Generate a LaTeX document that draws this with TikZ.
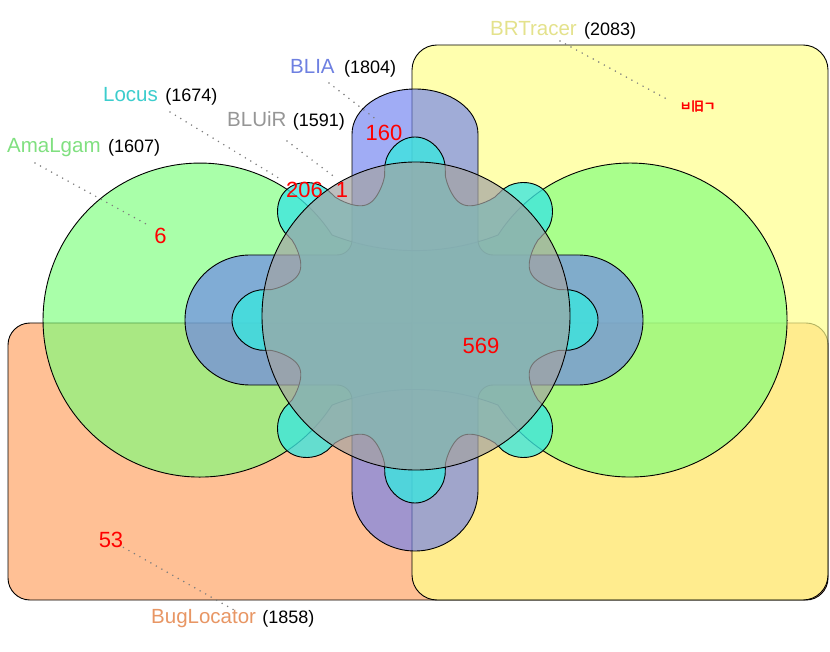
\documentclass[tikz,border=0pt]{standalone}
\usepackage{fontspec}
\setmainfont{Liberation Sans}
\newfontfamily\cjkfont[FakeBold=4]{Noto Sans CJK KR}
\usetikzlibrary{positioning}
\definecolor{vdYellow}{RGB}{255,255,140}
\definecolor{vdOrange}{RGB}{255,130,45}
\definecolor{vdGreen}{RGB}{121,255,121}
\definecolor{vdBlue}{RGB}{105,124,240}
\definecolor{vdCyan}{RGB}{59,230,223}
\definecolor{vdGray}{RGB}{163,163,163}
\definecolor{vdLblYellow}{RGB}{228,226,140}
\definecolor{vdLblOrange}{RGB}{232,150,100}
\definecolor{vdLblGreen}{RGB}{128,224,128}
\definecolor{vdLblBlue}{RGB}{110,128,225}
\definecolor{vdLblCyan}{RGB}{60,205,205}
\definecolor{vdLblGray}{RGB}{150,150,150}
\definecolor{vdDots}{RGB}{125,125,125}

\begin{document}
\begin{tikzpicture}[x=1pt, y=-1pt,
  set/.style={draw=black, line width=0.9pt},
  setname/.style={inner sep=0pt, anchor=base west, font=\fontsize{20.5}{24}\selectfont},
  setsize/.style={inner sep=0pt, font=\fontsize{18}{21}\selectfont},
  count/.style={inner sep=0pt, anchor=base, text=red, font=\fontsize{22}{26}\selectfont},
  leader/.style={draw=vdDots, line width=1.7pt, line cap=round, dash pattern=on 0pt off 6.3pt}]
  \useasboundingbox (0,0) rectangle (830,652);
  \fill[white] (0,0) rectangle (830,652);

  \draw[set, fill=vdOrange, fill opacity=0.5, rounded corners=22pt] (8,323) rectangle (828,600);
  \draw[set, fill=vdYellow, fill opacity=0.7, rounded corners=25pt] (412,45) rectangle (828,600);
  \draw[set, fill=vdGreen, fill opacity=0.635]
    (332,235) arc[start angle=111.3, end angle=68.7, radius=228.6]
    arc[start angle=212.8, end angle=507.2, radius=157]
    arc[start angle=291.3, end angle=248.7, radius=228.6]
    arc[start angle=32.8, end angle=327.2, radius=157] -- cycle;
  \draw[set, fill=vdBlue, fill opacity=0.63]
    (352,240) -- (352,134) arc[start angle=180, end angle=360, x radius=63, y radius=45]
    -- (478,240) arc[start angle=180, end angle=90, radius=15]
    -- (578,255) arc[start angle=270, end angle=450, radius=65]
    -- (493,385) arc[start angle=270, end angle=180, radius=15]
    -- (478,490) arc[start angle=0, end angle=180, x radius=63, y radius=61]
    -- (352,400) arc[start angle=0, end angle=-90, radius=15]
    -- (250,385) arc[start angle=90, end angle=270, radius=65]
    -- (337,255) arc[start angle=90, end angle=0, radius=15] -- cycle;
  \draw[set, fill=vdCyan, fill opacity=0.79, shift={(415,320)}]
    plot[domain=0:359, samples=360] (\x:{154+29*sign(cos(8*\x))*(abs(cos(8*\x))+0.0001)^0.6}) -- cycle;
  \draw[set, fill=vdGray, fill opacity=0.7] (416,316) circle[radius=154];

  \node[setname, text=vdLblYellow] (brt) at (490,36) {BRTracer};
  \node[setsize, base right=7pt of brt] (brtN) {(2083)};
  \node[setname, text=vdLblBlue] (blia) at (290,74) {BLIA};
  \node[setsize, base right=9pt of blia] (bliaN) {(1804)};
  \node[setname, text=vdLblCyan] (locus) at (103,102) {Locus};
  \node[setsize, base right=7pt of locus] (locusN) {(1674)};
  \node[setname, text=vdLblGray] (bluir) at (227,127) {BLUiR};
  \node[setsize, base right=6pt of bluir] (bluirN) {(1591)};
  \node[setname, text=vdLblGreen] (amalgam) at (7,153) {AmaLgam};
  \node[setsize, base right=7pt of amalgam] (amalgamN) {(1607)};
  \node[setname, text=vdLblOrange] (bugloc) at (151,623) {BugLocator};
  \node[setsize, base right=6pt of bugloc] (buglocN) {(1858)};

  \node[count] (c6) at (160.5,244) {6};
  \node[count] (c206) at (304.5,198) {206};
  \node[count] (c1) at (342,198) {1};
  \node[count] (c160) at (384,141) {160};
  \node[count] (c569) at (481,353) {569};
  \node[count] (c53) at (111,547) {53};
  \node[inner sep=0pt, text=red, font=\cjkfont\fontsize{12.5}{14}\selectfont] (cBRT) at (697.5,106) {ㅂ旧ㄱ};

  \coordinate (brtDot) at (560,41);
  \coordinate (bliaDot) at (329,83);
  \coordinate (locusDot) at (170,112);
  \coordinate (bluirDot) at (287,141);
  \coordinate (amalgamDot) at (35,163);
  \coordinate (buglocDot) at (234,610);
  \draw[leader, shorten >=11pt] (brtDot) -- (cBRT.west);
  \draw[leader, shorten >=9pt] (bliaDot) -- (c160.north);
  \draw[leader, shorten >=4pt] (locusDot) -- (c206.north west);
  \draw[leader, shorten >=6pt] (bluirDot) -- (c1.north);
  \draw[leader, shorten >=5pt] (amalgamDot) -- (c6.north west);
  \draw[leader] (c53.south east) -- (buglocDot);
\end{tikzpicture}
\end{document}
